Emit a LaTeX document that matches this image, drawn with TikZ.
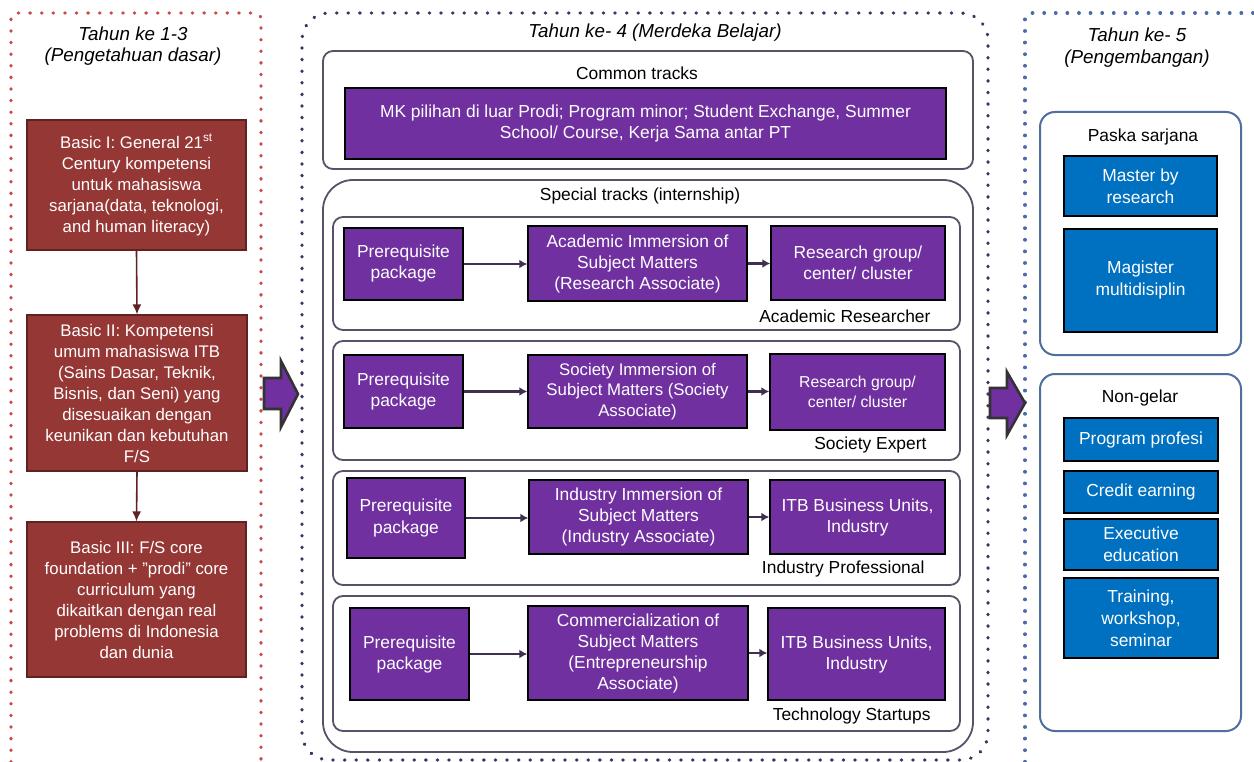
\documentclass[tikz,border=0pt]{standalone}
\usepackage{fontspec}
\setmainfont{Liberation Sans}
\usetikzlibrary{arrows.meta}
\definecolor{redbox}{HTML}{953735}
\definecolor{redline}{HTML}{5E2220}
\definecolor{purp}{HTML}{7030A0}
\definecolor{bluebox}{HTML}{0070C0}
\definecolor{reddot}{HTML}{C9484A}
\definecolor{navydot}{HTML}{3A3560}
\definecolor{bluedot}{HTML}{4A6AA8}
\definecolor{grayframe}{HTML}{5A5068}
\definecolor{steel}{HTML}{4F6F9F}
\definecolor{arrowc}{HTML}{3E3050}
\tikzset{
  dotline/.style={line width=3.4pt, dash pattern=on 0.4pt off 11.2pt, line cap=round},
  redb/.style={draw=redline, fill=redbox, line width=1.2pt, text=white, align=center, font=\fontsize{16.8}{21}\selectfont},
  purpb/.style={draw=black, fill=purp, line width=1.5pt, text=white, align=center, font=\fontsize{17.4}{21}\selectfont},
  blueb/.style={draw=black, fill=bluebox, line width=1.5pt, text=white, align=center, font=\fontsize{17.4}{22}\selectfont},
  frameb/.style={draw=grayframe, line width=1.8pt, rounded corners=10pt},
  steelb/.style={draw=steel, line width=2pt, rounded corners=15pt},
  lbl/.style={font=\fontsize{17.4}{20}\selectfont, text=black},
  ttl/.style={font=\fontsize{18.8}{22}\selectfont\itshape, text=black, align=center},
  redarr/.style={draw=redline, line width=1.6pt, -{Latex[length=10pt,width=9pt]}},
  smarr/.style={draw=arrowc, line width=2.8pt, -{Latex[length=8pt,width=9pt]}},
  bigarr/.style={draw=black!80, line width=2.6pt, fill=purp, line join=miter}
}
\begin{document}
\begin{tikzpicture}[x=1pt,y=-1pt]
\useasboundingbox (0,0) rectangle (1254,762);
\fill[white] (0,0) rectangle (1254,762);

% dotted frames
\draw[dotline, draw=reddot, rounded corners=5pt] (11,762) -- (11,13) -- (261,13) -- (261,762);
\draw[dotline, draw=navydot, rounded corners=27pt] (302,400) -- (302,13) -- (988,13) -- (988,760) -- (302,760) -- cycle;
\draw[dotline, draw=bluedot, rounded corners=5pt] (1025,762) -- (1025,13) -- (1262,13);

% titles
\node[ttl] (t1a) at (133,34) {Tahun ke 1-3};
\node[ttl] (t1b) at (133,57) {(Pengetahuan dasar)};
\node[ttl] (t2) at (655,33) {Tahun ke- 4 (Merdeka Belajar)};
\node[ttl] (t3a) at (1137,35) {Tahun ke- 5};
\node[ttl] (t3b) at (1137,59) {(Pengembangan)};

% left column
\node[redb, minimum width=219pt, minimum height=130pt] (b1) at (136.5,185) {Basic I: General 21\textsuperscript{st}\\Century kompetensi\\untuk mahasiswa\\sarjana(data, teknologi,\\and human literacy)};
\node[redb, minimum width=220pt, minimum height=156pt] (b2) at (137,393) {Basic II: Kompetensi\\umum mahasiswa ITB\\(Sains Dasar, Teknik,\\Bisnis, dan Seni) yang\\disesuaikan dengan\\keunikan dan kebutuhan\\F/S};
\node[redb, minimum width=219pt, minimum height=155pt] (b3) at (136.5,599.5) {Basic III: F/S core\\foundation + "prodi" core\\curriculum yang\\dikaitkan dengan real\\problems di Indonesia\\dan dunia};
\draw[redarr] (b1.south) -- (b2.north);
\draw[redarr] (b2.south) -- (b3.north);

% big arrows
\draw[bigarr] (264,378) -- (281,378) -- (281,361) -- (298,394) -- (281,427) -- (281,409) -- (264,409) -- cycle;
\draw[bigarr] (990,388) -- (1007,388) -- (1007,372) -- (1025,403) -- (1007,435) -- (1007,418) -- (990,418) -- cycle;

% middle: common tracks
\node[frameb, minimum width=650pt, minimum height=118pt] (common) at (648,110) {};
\node[lbl] (commonl) at (637,73) {Common tracks};
\node[purpb, minimum width=601pt, minimum height=71pt] (ct) at (645.5,123.5) {MK pilihan di luar Prodi; Program minor; Student Exchange, Summer\\School/ Course, Kerja Sama antar PT};

% special tracks
\node[frameb, rounded corners=30pt, minimum width=650pt, minimum height=572pt] (special) at (648,466) {};
\node[lbl] (specl) at (640,196) {Special tracks (internship)};

% rows
\node[frameb, minimum width=627pt, minimum height=113pt] (row1) at (646.5,273.5) {};
\node[frameb, minimum width=627pt, minimum height=119pt] (row2) at (646.5,400.5) {};
\node[frameb, minimum width=627pt, minimum height=114pt] (row3) at (646.5,528) {};
\node[frameb, minimum width=627pt, minimum height=135pt] (row4) at (646.5,663.5) {};

\node[purpb, minimum width=119pt, minimum height=72pt] (p1) at (403.5,264) {Prerequisite\\package};
\node[purpb, minimum width=219pt, minimum height=75pt] (a1) at (637.5,263.5) {Academic Immersion of\\Subject Matters\\(Research Associate)};
\node[purpb, minimum width=174pt, minimum height=74pt] (r1) at (858,263) {Research group/\\center/ cluster};
\node[lbl, anchor=east] (l1) at (934,316) {Academic Researcher};

\node[purpb, minimum width=119pt, minimum height=73pt] (p2) at (403.5,391.5) {Prerequisite\\package};
\node[purpb, minimum width=219pt, minimum height=73pt, font=\fontsize{16.8}{20.5}\selectfont] (a2) at (637.5,391.5) {Society Immersion of\\Subject Matters (Society\\Associate)};
\node[purpb, minimum width=175pt, minimum height=76pt, font=\fontsize{15.8}{20}\selectfont] (r2) at (857.5,392) {Research group/\\center/ cluster};
\node[lbl, anchor=east] (l2) at (930,445) {Society Expert};

\node[purpb, minimum width=118pt, minimum height=80pt] (p3) at (406,518) {Prerequisite\\package};
\node[purpb, minimum width=219pt, minimum height=74pt] (a3) at (638.5,517) {Industry Immersion of\\Subject Matters\\(Industry Associate)};
\node[purpb, minimum width=175pt, minimum height=74pt] (r3) at (857.5,517) {ITB Business Units,\\Industry};
\node[lbl, anchor=east] (l3) at (928,569) {Industry Professional};

\node[purpb, minimum width=119pt, minimum height=92pt] (p4) at (409.5,654) {Prerequisite\\package};
\node[purpb, minimum width=220pt, minimum height=94pt] (a4) at (638,653) {Commercialization of\\Subject Matters\\(Entrepreneurship\\Associate)};
\node[purpb, minimum width=177pt, minimum height=92pt] (r4) at (856.5,654) {ITB Business Units,\\Industry};
\node[lbl, anchor=east] (l4) at (934,716) {Technology Startups};

\foreach \r in {1,2,3,4}{
  \draw[smarr] (p\r.east) -- (p\r.east -| a\r.west);
  \draw[smarr] (a\r.east) -- (a\r.east -| r\r.west);
}

% right column
\node[steelb, minimum width=201pt, minimum height=243pt] (paska) at (1140.5,233.5) {};
\node[lbl] (paskal) at (1143,137) {Paska sarjana};
\node[blueb, minimum width=153pt, minimum height=60pt] (mbr) at (1140.5,186) {Master by\\research};
\node[blueb, minimum width=153pt, minimum height=103pt] (mag) at (1140.5,280.5) {Magister\\multidisiplin};

\node[steelb, minimum width=201pt, minimum height=357pt] (nong) at (1140.5,552.5) {};
\node[lbl] (nongl) at (1140,398) {Non-gelar};
\node[blueb, minimum width=154pt, minimum height=43pt] (prof) at (1141,439.5) {Program profesi};
\node[blueb, minimum width=154pt, minimum height=42pt] (cred) at (1141,492) {Credit earning};
\node[blueb, minimum width=154pt, minimum height=51pt] (exec) at (1141,544.5) {Executive\\education};
\node[blueb, minimum width=154pt, minimum height=80pt] (train) at (1141,618) {Training,\\workshop,\\seminar};
\end{tikzpicture}
\end{document}
